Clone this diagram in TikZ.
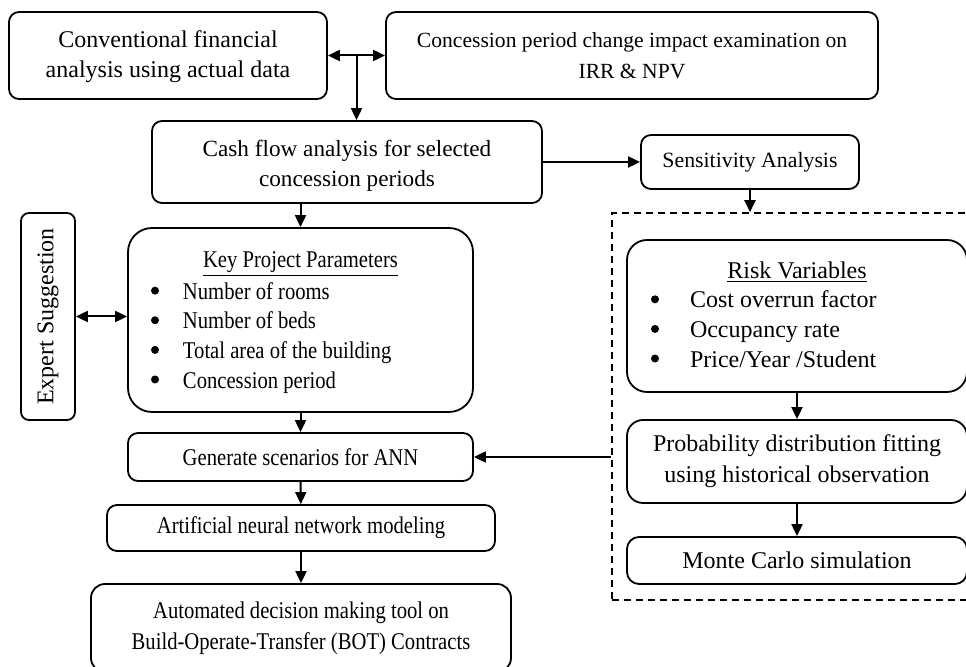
\documentclass[tikz,border=0pt]{standalone}
\usepackage{fontspec}
\setmainfont{Liberation Serif}
\newfontfamily\narrowserif{Liberation Serif}[FakeStretch=0.86]
\usetikzlibrary{arrows.meta, calc}

% round list marker and a bullet list with a fixed left edge inside a centred node
\newcommand{\dotmark}{\tikz[baseline=0pt]{\path (0pt,0pt) (4pt,0pt); \fill (2pt,0.36em) circle (2pt);}}
\newcommand{\bulletlist}[3]{\makebox[#1][l]{\begin{tabular}[t]{@{}l@{\hspace{#2}}l@{}}#3\end{tabular}}}
% invisible strut to push a text block down a little
\newcommand{\topstrut}[1]{\rule{0pt}{#1}}

\begin{document}
\begin{tikzpicture}[x=0.5pt, y=-0.5pt, >={Triangle[length=6pt, width=5.5pt]},
        box/.style={rectangle, draw, line width=0.9pt, rounded corners=5pt, align=center, inner sep=2pt,
            font=\fontsize{12}{15.6}\selectfont},
        narrowbox/.style={box, font=\narrowserif\fontsize{12}{15.5}\selectfont},
        listbox/.style={box, rounded corners=11pt},
        arrow/.style={->, line width=1pt}
    ]
    \useasboundingbox (0,0) rectangle (966,667);
    \clip (0,0) rectangle (966,667);

    % Financial analysis
    \node[box, font=\fontsize{12}{15}\selectfont, minimum width=159pt, minimum height=43.5pt] (conv) at (168,55.5) {\topstrut{10pt}Conventional financial\\analysis using actual data};
    \node[box, font=\fontsize{10.8}{15.5}\selectfont, minimum width=246pt, minimum height=43.5pt] (impact) at (632,55.5) {Concession period change impact examination on\\IRR \& NPV};
    \node[box, font=\fontsize{11.6}{15}\selectfont, minimum width=195pt, minimum height=41pt] (cash) at (347,162) {\topstrut{11.5pt}Cash flow analysis for selected\\concession periods};
    \node[box, font=\fontsize{10.9}{13}\selectfont, minimum width=109pt, minimum height=27pt] (sens) at (750,162) {Sensitivity Analysis};

    % ANN branch
    \node[box, rotate=90, minimum width=103.5pt, minimum height=27pt, rounded corners=4pt] (expert) at (48,316.5) {Expert Suggestion};
    \node[listbox, narrowbox, font=\narrowserif\fontsize{12}{14.8}\selectfont, rounded corners=12pt, minimum width=172.5pt, minimum height=92pt] (key) at (300.5,320) {\topstrut{12.2pt}\underline{Key Project Parameters}\\
        \bulletlist{149.5pt}{12pt}{\dotmark & Number of rooms\\ \dotmark & Number of beds\\ \dotmark & Total area of the building\\ \dotmark & Concession period}};
    \node[narrowbox, minimum width=172.5pt, minimum height=24pt] (gen) at (300.5,457) {Generate scenarios for ANN};
    \node[narrowbox, minimum width=194pt, minimum height=23pt] (ann) at (301,528) {Artificial neural network modeling};
    \node[narrowbox, minimum width=210pt, minimum height=44pt, rounded corners=7pt] (auto) at (301,628) {Automated decision making tool on\\Build-Operate-Transfer (BOT) Contracts};

    % Risk branch
    \node[rectangle, draw, line width=0.8pt, dash pattern=on 3.5pt off 2.5pt, minimum width=186.5pt, minimum height=193.5pt] (riskgroup) at (798.5,406.5) {};
    \node[listbox, font=\fontsize{12}{14.8}\selectfont, rounded corners=10pt, minimum width=170pt, minimum height=76pt] (risk) at (797,316) {\topstrut{11.2pt}\underline{Risk Variables}\\
        \bulletlist{146pt}{15.5pt}{\dotmark & Cost overrun factor\\ \dotmark & Occupancy rate\\ \dotmark & Price/Year /Student}};
    \node[box, rounded corners=8pt, minimum width=170pt, minimum height=41.5pt] (prob) at (797,461.5) {Probability distribution fitting\\using historical observation};
    \node[box, rounded corners=6pt, minimum width=170pt, minimum height=23.5pt] (monte) at (797,560.5) {Monte Carlo simulation};

    % Arrows
    \coordinate (split) at ($(conv.east)!0.5!(impact.west)$);
    \draw[<->, line width=1pt] (conv.east) -- (impact.west);
    \draw[arrow] (split) -- (split |- cash.north);
    \draw[arrow] (cash.east) -- (sens.west);
    \draw[arrow] (sens.south) -- (sens.south |- riskgroup.north);
    \draw[arrow] (key.north |- cash.south) -- (key.north);
    \draw[<->, line width=1pt] (expert.south) -- (expert.south -| key.west);
    \draw[arrow] (key) -- (gen);
    \draw[arrow] (gen) -- (ann);
    \draw[arrow] (ann) -- (auto);
    \draw[arrow] (riskgroup.west |- gen.east) -- (gen.east);
    \draw[arrow] (risk) -- (prob);
    \draw[arrow] (prob) -- (monte);

\end{tikzpicture}
\end{document}
